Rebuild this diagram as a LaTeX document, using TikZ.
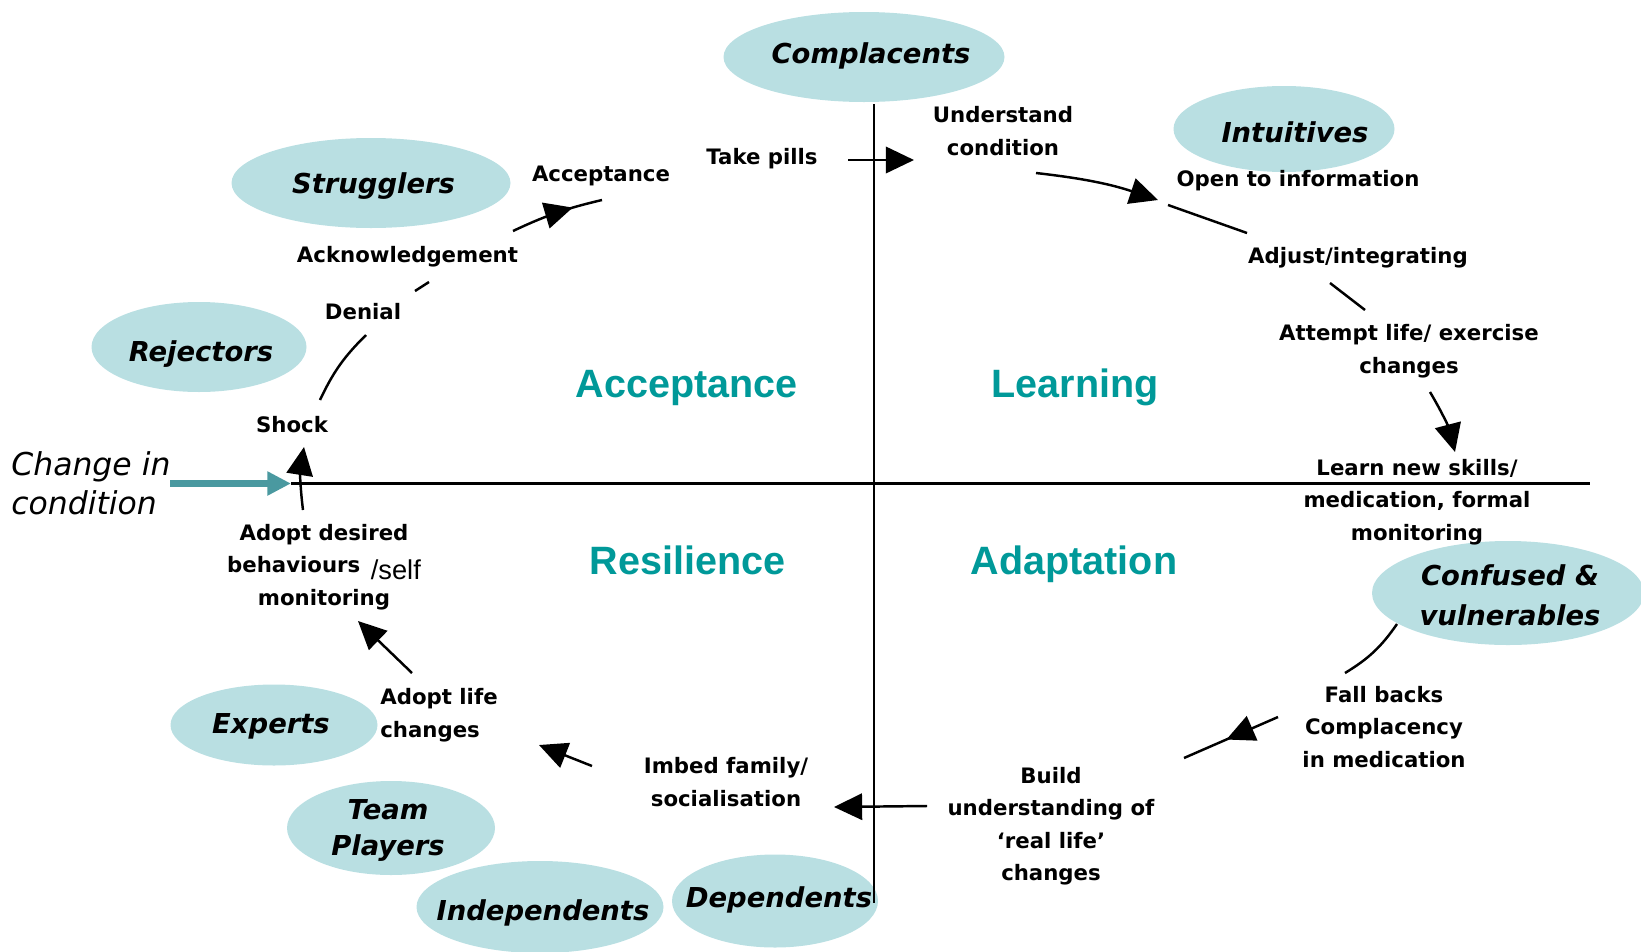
\documentclass[tikz,border=0pt]{standalone}
\usepackage{fontspec}
\setmainfont{DejaVu Sans}[ItalicFont={DejaVu Sans Oblique},BoldFont={DejaVu Sans Bold},BoldItalicFont={DejaVu Sans Bold Oblique}]
\newfontfamily\phasefamily{Liberation Sans}
\usetikzlibrary{shapes.geometric}
\usetikzlibrary{arrows.meta}
\usetikzlibrary{decorations.markings}

\definecolor{blobfill}{RGB}{185,223,226}
\definecolor{phaseteal}{RGB}{0,153,153}
\definecolor{changeteal}{RGB}{74,153,160}

\newcommand{\stagefont}{\fontsize{12.1}{18.5}\selectfont\bfseries}
\newcommand{\patientfont}{\fontsize{15.6}{20.5}\selectfont\bfseries\itshape}
\newcommand{\phasefont}{\phasefamily\fontsize{22.5}{27}\selectfont\bfseries}
\newcommand{\changefont}{\fontsize{17.9}{22.2}\selectfont\itshape}
\newcommand{\selffont}{\phasefamily\fontsize{15.5}{18.5}\selectfont\mdseries}

\tikzstyle{blob}=[ellipse, fill=blobfill, inner sep=0pt]
\tikzstyle{patient}=[font=\patientfont, align=center, inner sep=0pt]
\tikzstyle{stage}=[font=\stagefont, align=center, inner sep=0pt]
\tikzstyle{phase}=[font=\phasefont, text=phaseteal, anchor=base]
\tikzstyle{quadrant}=[line width=1.3pt]
\tikzstyle{flow}=[line width=1.4pt]
\tikzstyle{flowarrow}=[flow, -{Triangle[length=16pt,width=15pt]}]
\tikzset{midarrow/.style={flow, postaction={decorate},
    decoration={markings, mark=at position #1 with {\arrow{Triangle[length=16pt,width=15pt]}}}}}

\begin{document}
\begin{tikzpicture}
  \useasboundingbox (0,0) rectangle (32.82,-19.02);

  \node[blob, minimum width=5.62cm, minimum height=1.80cm] (cmp) at (17.28,-1.14) {};
  \node[blob, minimum width=4.42cm, minimum height=1.72cm] (intu) at (25.68,-2.58) {};
  \node[blob, minimum width=5.58cm, minimum height=1.80cm] (strug) at (7.42,-3.66) {};
  \node[blob, minimum width=4.30cm, minimum height=1.80cm] (rej) at (3.98,-6.94) {};
  \node[blob, minimum width=5.44cm, minimum height=2.08cm] (conf) at (30.16,-11.86) {};
  \node[blob, minimum width=4.14cm, minimum height=1.62cm] (exp) at (5.48,-14.50) {};
  \node[blob, minimum width=4.16cm, minimum height=1.88cm] (team) at (7.82,-16.56) {};
  \node[blob, minimum width=4.94cm, minimum height=1.84cm] (indep) at (10.80,-18.14) {};
  \node[blob, minimum width=4.12cm, minimum height=1.86cm] (dep) at (15.50,-18.02) {};

  \coordinate (vtop) at (17.48,-2.08);
  \coordinate (vbot) at (17.48,-18.06);
  \coordinate (hleft) at (5.82,-9.67);
  \coordinate (hright) at (31.80,-9.67);
  \coordinate (cstart) at (3.40,-9.67);

  \draw[quadrant] (vtop) -- (vbot);
  \draw[quadrant] (hleft) -- (hright);
  \draw[line width=3.8pt, changeteal, -{Triangle[length=13.5pt,width=13pt]}] (cstart) -- (hleft);

  \node[patient] (cmpT) at (17.42,-1.12) {Complacents};
  \node[patient] (intuT) at (25.90,-2.64) {Intuitives};
  \node[patient] (strugT) at (7.47,-3.72) {Strugglers};
  \node[patient] (rejT) at (4.02,-7.08) {Rejectors};
  \node[patient, font=\fontsize{15.6}{22.6}\selectfont\bfseries\itshape] (confT) at (30.20,-11.90) {Confused \&\\vulnerables};
  \node[patient] (expT) at (5.42,-14.52) {Experts};
  \node[patient] (teamT) at (7.76,-16.60) {Team\\Players};
  \node[patient] (indepT) at (10.86,-18.26) {Independents};
  \node[patient] (depT) at (15.58,-18.00) {Dependents};

  \node[phase] (accQ) at (13.73,-7.95) {Acceptance};
  \node[phase] (learnQ) at (21.50,-7.95) {Learning};
  \node[phase] (resQ) at (13.75,-11.49) {Resilience};
  \node[phase] (adaptQ) at (21.48,-11.49) {Adaptation};

  \node[font=\changefont, align=left, anchor=west, inner sep=0pt] (change) at (0.22,-9.67) {Change in\\condition};

  \node[stage] (shock) at (5.84,-8.49) {Shock};
  \node[stage] (denial) at (7.26,-6.23) {Denial};
  \node[stage] (ack) at (8.15,-5.14) {Acknowledgement};
  \node[stage] (accept) at (12.02,-3.52) {Acceptance};
  \node[stage] (pills) at (15.24,-3.18) {Take pills};
  \node[stage] (under) at (20.06,-2.62) {Understand\\condition};
  \node[stage] (open) at (25.96,-3.62) {Open to information};
  \node[stage] (adjust) at (27.16,-5.16) {Adjust/integrating};
  \node[stage] (attempt) at (28.18,-7.02) {Attempt life/ exercise\\changes};
  \node[stage] (learn) at (28.34,-10.04) {Learn new skills/\\medication, formal\\monitoring};
  \node[stage] (fall) at (27.68,-14.54) {Fall backs\\Complacency\\in medication};
  \node[stage] (build) at (21.02,-16.52) {Build\\understanding of\\‘real life’\\changes};
  \node[stage] (imbed) at (14.52,-15.64) {Imbed family/\\socialisation};
  \node[stage, align=left, anchor=west] (life) at (7.60,-14.30) {Adopt life\\changes};
  \node[stage] (adopt) at (6.48,-11.34) {Adopt desired\\behaviours\hspace{6pt}\raisebox{-4pt}{\selffont /self}\\monitoring};

  \coordinate (adopt-out) at (6.06,-10.20);
  \coordinate (shock-in) at (6.08,-8.94);
  \coordinate (shock-out) at (6.40,-8.00);
  \coordinate (denial-in) at (7.32,-6.70);
  \coordinate (denial-out) at (8.30,-5.82);
  \coordinate (ack-in) at (8.58,-5.64);
  \coordinate (ack-out) at (10.26,-4.62);
  \coordinate (accept-in) at (12.04,-4.00);
  \coordinate (pills-out) at (16.96,-3.20);
  \coordinate (under-in) at (18.28,-3.20);
  \coordinate (under-out) at (20.72,-3.46);
  \coordinate (open-in) at (23.16,-4.00);
  \coordinate (open-out) at (23.36,-4.10);
  \coordinate (adjust-in) at (24.94,-4.66);
  \coordinate (adjust-out) at (26.60,-5.66);
  \coordinate (attempt-in) at (27.30,-6.20);
  \coordinate (attempt-out) at (28.60,-7.84);
  \coordinate (learn-in) at (29.10,-9.04);
  \coordinate (conf-out) at (27.94,-12.48);
  \coordinate (fall-in) at (26.90,-13.46);
  \coordinate (fall-out) at (25.56,-14.34);
  \coordinate (build-in) at (23.68,-15.16);
  \coordinate (build-out) at (18.54,-16.12);
  \coordinate (imbed-in) at (16.68,-16.14);
  \coordinate (imbed-out) at (11.84,-15.32);
  \coordinate (life-in) at (10.78,-14.90);
  \coordinate (life-out) at (8.24,-13.46);
  \coordinate (adopt-in) at (7.16,-12.42);

  \draw[flowarrow] (adopt-out) to[bend left=8] (shock-in);
  \draw[flow] (shock-out) to[bend left=10] (denial-in);
  \draw[flow] (denial-out) -- (ack-in);
  \draw[midarrow=0.68] (ack-out) to[bend left=6] (accept-in);
  \draw[flowarrow] (pills-out) -- (under-in);
  \draw[flowarrow] (under-out) to[bend left=6] (open-in);
  \draw[flow] (open-out) -- (adjust-in);
  \draw[flow] (adjust-out) -- (attempt-in);
  \draw[flowarrow] (attempt-out) to[bend left=8] (learn-in);
  \draw[flow] (conf-out) to[bend left=12] (fall-in);
  \draw[midarrow=0.55] (fall-out) -- (build-in);
  \draw[flowarrow] (build-out) -- (imbed-in);
  \draw[flowarrow] (imbed-out) -- (life-in);
  \draw[flowarrow] (life-out) -- (adopt-in);
\end{tikzpicture}
\end{document}
